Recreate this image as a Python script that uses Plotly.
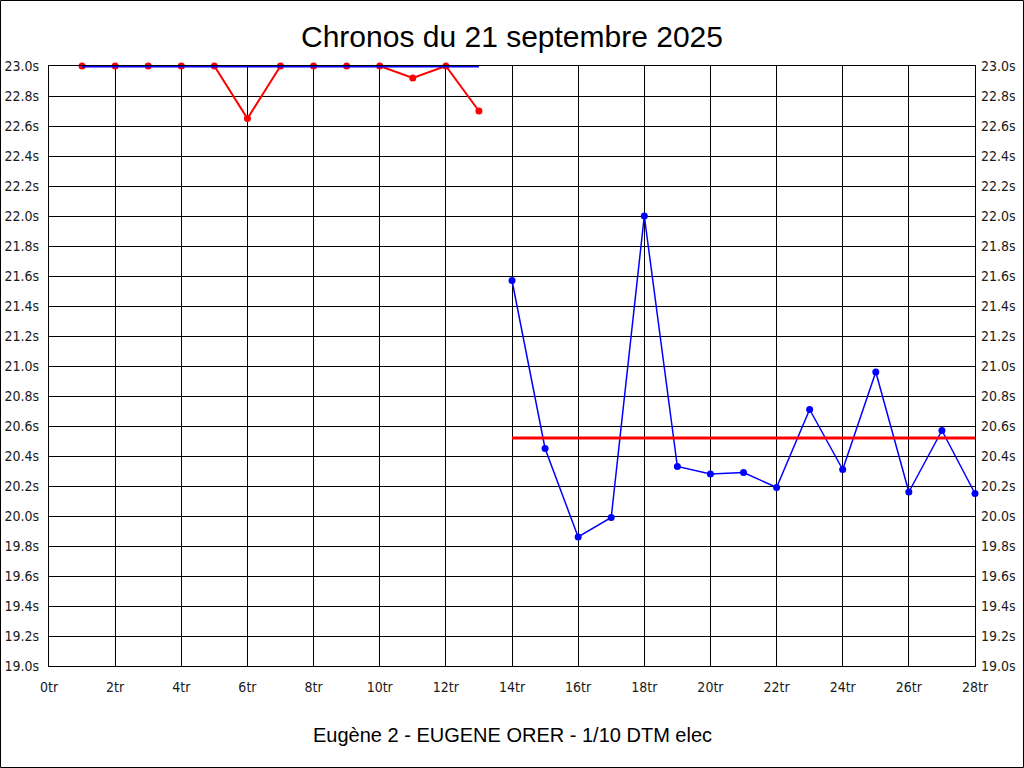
import plotly.graph_objects as go

title = "Chronos du 21 septembre 2025"
subtitle = "Eugène 2 - EUGENE ORER - 1/10 DTM elec"

laps_red = list(range(1, 14))
times_red = [23.0, 23.0, 23.0, 23.0, 23.0, 22.65, 23.0, 23.0, 23.0, 23.0, 22.92, 23.0, 22.70]

laps_blue = list(range(14, 29))
times_blue = [21.57, 20.45, 19.86, 19.99, 22.0, 20.33, 20.28, 20.29, 20.19, 20.71,
              20.31, 20.96, 20.16, 20.57, 20.15]

avg_red_x = [1, 13]
avg_red_y = [23.0, 23.0]
avg_blue_x = [14, 28]
avg_blue_y = [20.52, 20.52]

fig = go.Figure()

fig.add_trace(go.Scatter(x=laps_red, y=times_red, mode="lines+markers",
                         line=dict(color="#ff0000", width=2),
                         marker=dict(color="#ff0000", size=7),
                         cliponaxis=False, showlegend=False))
fig.add_trace(go.Scatter(x=avg_red_x, y=avg_red_y, mode="lines",
                         line=dict(color="#0000ff", width=3),
                         cliponaxis=False, showlegend=False))
fig.add_trace(go.Scatter(x=laps_blue, y=times_blue, mode="lines+markers",
                         line=dict(color="#0000ff", width=1.5),
                         marker=dict(color="#0000ff", size=7),
                         cliponaxis=False, showlegend=False))
fig.add_trace(go.Scatter(x=avg_blue_x, y=avg_blue_y, mode="lines",
                         line=dict(color="#ff0000", width=3),
                         cliponaxis=False, showlegend=False, yaxis="y2"))

L, R, T, B = 49, 49, 66, 102
W, H = 1024, 768
pw, ph = W - L - R, H - T - B

tickfont = dict(family="Liberation Sans Narrow, DejaVu Sans Condensed, Arial Narrow, sans-serif",
                size=14, color="#1a1a1a")

fig.update_layout(
    width=W, height=H,
    margin=dict(l=L, r=R, t=T, b=B, autoexpand=False),
    paper_bgcolor="white", plot_bgcolor="white",
    title=dict(text=title, x=0.5, xanchor="center", y=1 - 36 / H, yanchor="middle",
               font=dict(family="Liberation Sans, Arial, sans-serif", size=30, color="black")),
    xaxis=dict(range=[0, 28], dtick=2, tick0=0, ticksuffix="tr", automargin=False,
               showgrid=True, gridcolor="black", gridwidth=1,
               showline=True, linecolor="black", linewidth=1, mirror=True,
               zeroline=False, ticks="", ticklabelstandoff=8,
               tickfont=tickfont),
    yaxis=dict(range=[19.0, 23.0], dtick=0.2, tick0=19.0, tickformat=".1f", ticksuffix="s",
               automargin=False,
               showgrid=True, gridcolor="black", gridwidth=1,
               showline=True, linecolor="black", linewidth=1, mirror=True,
               zeroline=False, ticks="", ticklabelstandoff=6,
               tickfont=tickfont),
    yaxis2=dict(range=[19.0, 23.0], dtick=0.2, tick0=19.0, tickformat=".1f", ticksuffix="s",
                automargin=False,
                overlaying="y", side="right", showgrid=False, zeroline=False,
                ticks="", ticklabelstandoff=5, tickfont=tickfont),
    annotations=[dict(text=subtitle, xref="paper", yref="paper", x=0.5,
                      y=(T + ph - 735) / ph, xanchor="center", yanchor="middle",
                      showarrow=False,
                      font=dict(family="Liberation Sans, Arial, sans-serif", size=20, color="black"))],
    shapes=[dict(type="rect", xref="paper", yref="paper",
                 x0=(0.5 - L) / pw, x1=(W - 0.5 - L) / pw,
                 y0=(T + ph - (H - 0.5)) / ph, y1=(T + ph - 0.5) / ph,
                 line=dict(color="black", width=1), layer="below")],
)

fig.write_html("out.html", config={"displayModeBar": False},
               post_script="document.body.style.margin='0';document.body.style.overflow='hidden';")
